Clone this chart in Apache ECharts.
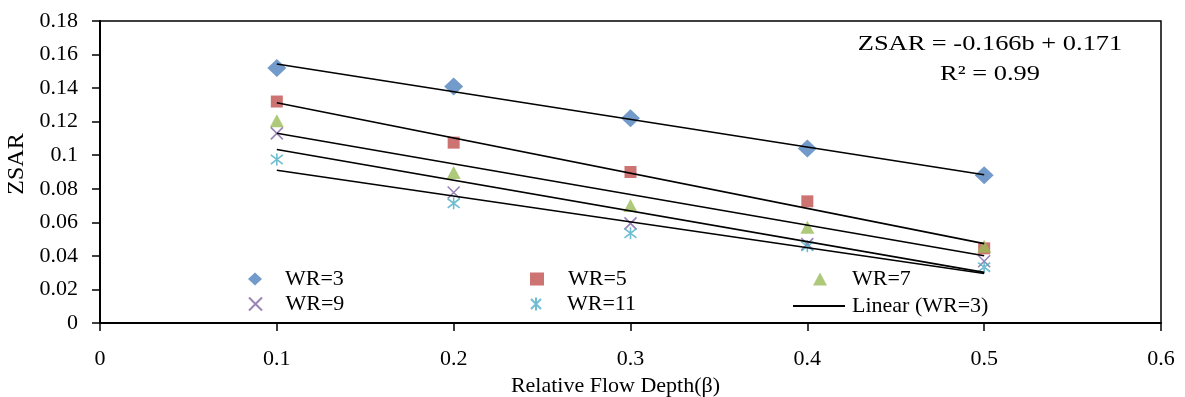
<!DOCTYPE html>
<html>
<head>
<meta charset="utf-8">
<script src="https://cdn.jsdelivr.net/npm/echarts@6/dist/echarts.min.js"></script>
<style>
  html, body { margin: 0; padding: 0; background: #fff; }
  #chart { width: 1185px; height: 397px; }
</style>
</head>
<body>
<div id="chart"></div>
<script>
// relative flow depth (beta)
const beta = [0.1, 0.2, 0.3, 0.4, 0.5];
const wr3 = [0.152, 0.141, 0.122, 0.104, 0.088];
const wr5 = [0.132, 0.1075, 0.090, 0.0725, 0.0445];
const wr7 = [0.1206, 0.0897, 0.070, 0.057, 0.0457];
const wr9 = [0.113, 0.0778, 0.0594, 0.047, 0.0368];
const wr11 = [0.0974, 0.0713, 0.0535, 0.0457, 0.0333];
const seriesNames = ['WR=3', 'WR=5', 'WR=7', 'WR=9', 'WR=11'];
const equationLines = ['ZSAR = -0.166b + 0.171', 'R² = 0.99'];

const FONT = '"Liberation Serif", "Times New Roman", serif';
const FS = 22;
const BLACK = '#000';

// least squares fit, drawn from first to last beta like an Excel trendline
function linearFit(xs, ys) {
  const n = xs.length;
  const mx = xs.reduce((a, b) => a + b, 0) / n;
  const my = ys.reduce((a, b) => a + b, 0) / n;
  let sxy = 0;
  let sxx = 0;
  xs.forEach((x, i) => {
    sxy += (x - mx) * (ys[i] - my);
    sxx += (x - mx) * (x - mx);
  });
  const slope = sxy / sxx;
  const icpt = my - slope * mx;
  const x0 = xs[0];
  const x1 = xs[n - 1];
  return [[x0, icpt + slope * x0], [x1, icpt + slope * x1]];
}

const pairs = (ys) => beta.map((b, i) => [b, ys[i]]);

const crossPath = 'path://M0,0L10,10M10,0L0,10';
const starPath = 'path://M0,0L10,10M10,0L0,10M5,-1.5L5,11.5';

const markerSeries = [
  { name: 'WR=3', data: pairs(wr3), symbol: 'diamond', symbolSize: [19, 18], itemStyle: { color: '#4F81BD' } },
  { name: 'WR=5', data: pairs(wr5), symbol: 'rect', symbolSize: 12, itemStyle: { color: '#C0504D' } },
  { name: 'WR=7', data: pairs(wr7), symbol: 'triangle', symbolSize: [14, 13], itemStyle: { color: '#9BBB59' } },
  {
    name: 'WR=9', data: pairs(wr9), symbol: crossPath, symbolSize: 12,
    itemStyle: { color: 'rgba(0,0,0,0)', borderColor: '#8064A2', borderWidth: 1.6 }
  },
  {
    name: 'WR=11', data: pairs(wr11), symbol: starPath, symbolSize: 12,
    itemStyle: { color: 'rgba(0,0,0,0)', borderColor: '#4BACC6', borderWidth: 1.6 }
  }
].map((s) => Object.assign({ type: 'scatter', z: 2 }, s));

const fits = [wr3, wr5, wr7, wr9, wr11].map((ys, i) => ({
  name: 'Linear (' + seriesNames[i] + ')',
  type: 'line',
  data: linearFit(beta, ys),
  symbol: 'none',
  z: 3,
  lineStyle: { color: BLACK, width: 1.6 },
  itemStyle: { color: BLACK }
}));

function legendAt(name, left, top, gap) {
  return {
    data: [name],
    left: left,
    top: top,
    padding: 0,
    itemWidth: 14,
    itemHeight: 13,
    textStyle: { fontFamily: FONT, fontSize: FS, color: BLACK, padding: [0, 0, 0, gap] },
    selectedMode: false
  };
}

const lineLegend = {
  data: [{ name: 'Linear (WR=3)', icon: 'rect', itemStyle: { color: BLACK } }],
  left: 793,
  top: 295,
  padding: 0,
  itemWidth: 52,
  itemHeight: 1.8,
  textStyle: { fontFamily: FONT, fontSize: FS, color: BLACK, padding: [0, 0, 0, 2] },
  selectedMode: false
};

const chart = echarts.init(document.getElementById('chart'));
chart.setOption({
  animation: false,
  grid: {
    left: 100, right: 24, top: 21, bottom: 74,
    outerBoundsMode: 'none',
    show: true, borderColor: BLACK, borderWidth: 1.5
  },
  legend: [
    legendAt('WR=3', 248, 268, 18),
    legendAt('WR=5', 530, 268, 19),
    legendAt('WR=7', 813, 268, 20),
    legendAt('WR=9', 248, 293, 18),
    legendAt('WR=11', 530, 293, 19),
    lineLegend
  ],
  xAxis: {
    type: 'value', min: 0, max: 0.6, interval: 0.1,
    name: 'Relative Flow Depth(β)', nameLocation: 'middle', nameGap: 48,
    nameTextStyle: { fontFamily: FONT, fontSize: FS, color: BLACK, padding: [0, 30, 0, 0] },
    axisLine: { lineStyle: { color: BLACK, width: 2 } },
    axisTick: { show: true, inside: false, length: 8, lineStyle: { color: BLACK, width: 1.5 } },
    axisLabel: { fontFamily: FONT, fontSize: FS, color: BLACK, margin: 25 },
    splitLine: { show: false }
  },
  yAxis: {
    type: 'value', min: 0, max: 0.18, interval: 0.02,
    name: 'ZSAR', nameLocation: 'middle', nameGap: 51,
    nameTextStyle: { fontFamily: FONT, fontSize: 24, color: BLACK, padding: [0, 0, 0, 16] },
    axisLine: { show: true, lineStyle: { color: BLACK, width: 2 } },
    axisTick: { show: true, inside: false, length: 8, lineStyle: { color: BLACK, width: 1.5 } },
    axisLabel: { fontFamily: FONT, fontSize: FS, color: BLACK, margin: 22 },
    splitLine: { show: false }
  },
  graphic: equationLines.map((t, i) => ({
    type: 'text',
    x: 990,
    y: 44 + i * 30,
    scaleX: 1.2,
    style: {
      text: t, fontFamily: FONT, fontSize: FS, fill: BLACK,
      textAlign: 'center', textVerticalAlign: 'middle'
    }
  })),
  series: markerSeries.concat(fits)
});
</script>
</body>
</html>
